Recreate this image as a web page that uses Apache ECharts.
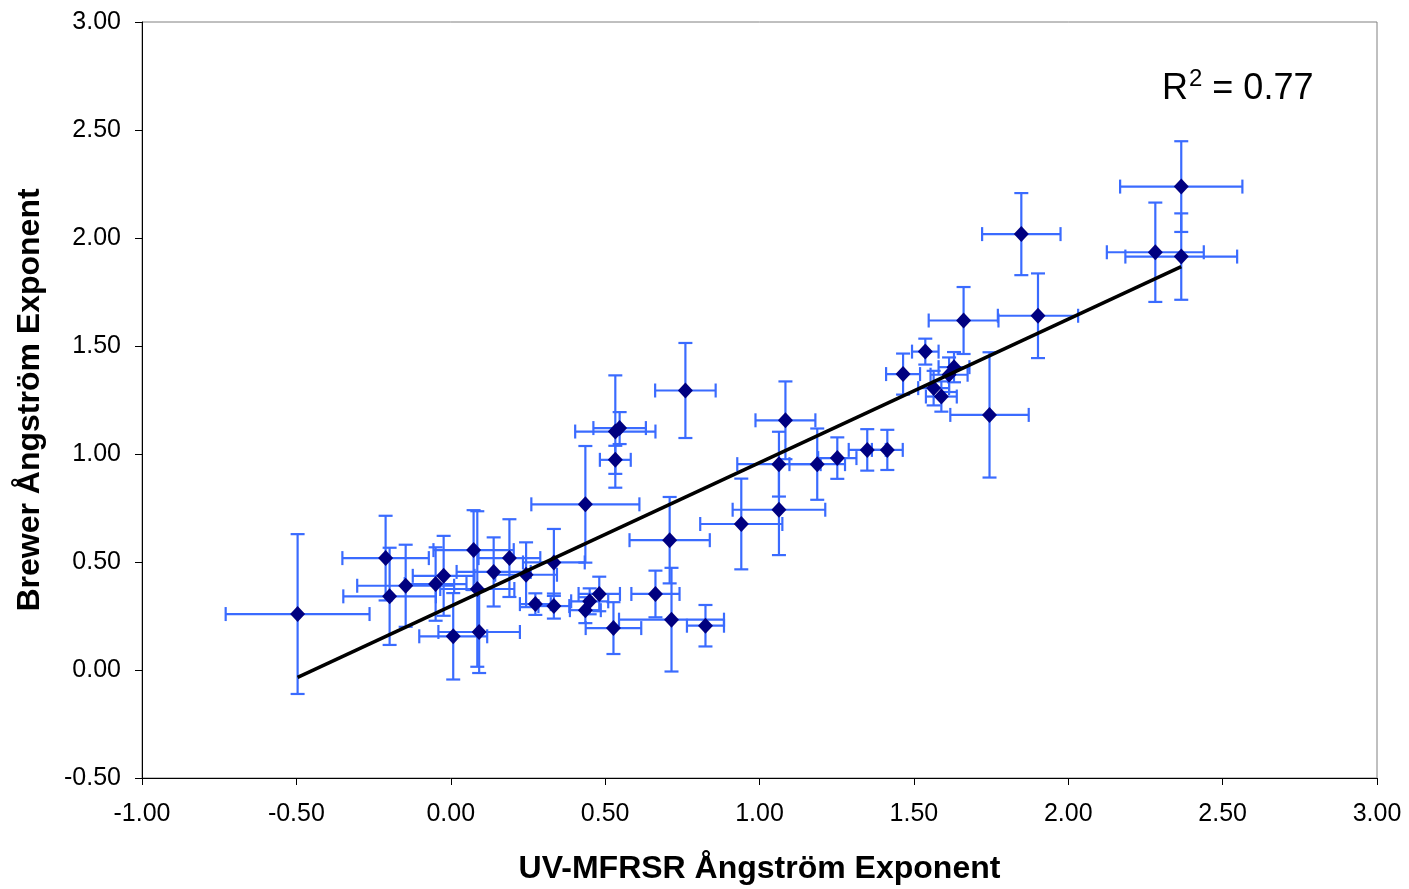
<!DOCTYPE html>
<html>
<head>
<meta charset="utf-8">
<script src="https://cdn.jsdelivr.net/npm/echarts@6/dist/echarts.min.js"></script>
<style>html,body{margin:0;padding:0;background:#fff;}#chart{width:1409px;height:889px;}</style>
</head>
<body>
<div id="chart"></div>
<script>
// UV-MFRSR Ångström exponent (x), Brewer Ångström exponent (y)
const xValues = [-0.496,-0.211,-0.198,-0.146,-0.049,-0.023,0.008,0.074,0.086,0.092,
  0.139,0.190,0.244,0.274,0.334,0.334,0.436,0.450,0.481,0.436,
  0.527,0.533,0.533,0.547,0.663,0.709,0.715,0.760,0.825,0.941,
  1.063,1.063,1.084,1.187,1.252,1.349,1.414,1.465,1.537,1.564,
  1.589,1.614,1.630,1.661,1.745,1.848,1.902,2.282,2.366,2.366];
const yValues = [0.259,0.518,0.341,0.390,0.398,0.436,0.156,0.555,0.375,0.176,
  0.454,0.518,0.441,0.305,0.296,0.498,0.277,0.318,0.352,0.767,
  0.194,0.973,1.104,1.120,0.352,0.601,0.233,1.294,0.205,0.676,
  0.953,0.742,1.156,0.953,0.981,1.019,1.019,1.370,1.474,1.305,
  1.266,1.367,1.402,1.618,1.181,2.018,1.640,1.934,2.238,1.914];
const xErrors = [0.233,0.140,0.150,0.157,0.100,0.100,0.110,0.130,0.120,0.132,
  0.120,0.100,0.100,0.050,0.050,0.100,0.050,0.060,0.067,0.175,
  0.090,0.050,0.130,0.085,0.078,0.130,0.170,0.098,0.060,0.133,
  0.135,0.150,0.097,0.090,0.062,0.060,0.050,0.055,0.043,0.050,
  0.050,0.060,0.050,0.113,0.127,0.127,0.130,0.157,0.198,0.181];
const yErrors = [0.370,0.196,0.225,0.190,0.170,0.185,0.200,0.185,0.360,0.190,
  0.160,0.180,0.150,0.050,0.058,0.155,0.060,0.060,0.080,0.270,
  0.120,0.065,0.260,0.074,0.108,0.200,0.240,0.220,0.096,0.210,
  0.150,0.210,0.180,0.165,0.096,0.096,0.093,0.095,0.060,0.080,
  0.070,0.080,0.070,0.155,0.290,0.190,0.196,0.230,0.210,0.200];
const xTickMin = -1, xTickMax = 3, xTickStep = 0.5;
const yTickMin = -0.5, yTickMax = 3, yTickStep = 0.5;
const rSquaredLabel = '0.77';

// least-squares trend line
const n = xValues.length;
const mx = xValues.reduce((a,b)=>a+b,0)/n;
const my = yValues.reduce((a,b)=>a+b,0)/n;
let sxy = 0, sxx = 0;
for (let i=0;i<n;i++){ sxy += (xValues[i]-mx)*(yValues[i]-my); sxx += (xValues[i]-mx)**2; }
const slope = sxy/sxx, intercept = my - slope*mx;
const xLo = Math.min(...xValues), xHi = Math.max(...xValues);
const trendData = [[xLo, intercept+slope*xLo],[xHi, intercept+slope*xHi]];

const points = xValues.map((x,i)=>[x, yValues[i]]);
const errData = xValues.map((x,i)=>[x, yValues[i], xErrors[i], yErrors[i]]);

const chart = echarts.init(document.getElementById('chart'));
const FONT = 'Liberation Sans, Arial, sans-serif';
const errColor = '#3a6bff';
const CAP = 7;

chart.setOption({
  animation:false,
  backgroundColor:'#fff',
  title:{
    left:1157, top:62,
    text:'{a|R}{s|2}{a| = ' + rSquaredLabel + '}',
    textStyle:{
      fontWeight:'normal',
      rich:{
        a:{fontFamily:FONT,fontSize:36,fontWeight:'normal',color:'#000',verticalAlign:'bottom',lineHeight:40},
        s:{fontFamily:FONT,fontSize:24,fontWeight:'normal',color:'#000',verticalAlign:'top',lineHeight:40,padding:[0,0,0,1]}
      }
    }
  },
  grid:{left:142,right:32,top:22,bottom:111,show:true,borderColor:'#808080',borderWidth:1,containLabel:false,outerBoundsMode:'none'},
  xAxis:{
    type:'value',min:xTickMin,max:xTickMax,interval:xTickStep,
    name:'UV-MFRSR Ångström Exponent',nameLocation:'middle',nameGap:75,
    nameTextStyle:{fontFamily:FONT,fontSize:32,fontWeight:'bold',color:'#000'},
    axisLine:{show:true,onZero:false,lineStyle:{color:'#000',width:1}},
    axisTick:{show:true,inside:false,length:7,lineStyle:{color:'#000'}},
    axisLabel:{fontFamily:FONT,fontSize:25,color:'#000',margin:24,formatter:v=>v.toFixed(2)},
    splitLine:{show:false}
  },
  yAxis:{
    type:'value',min:yTickMin,max:yTickMax,interval:yTickStep,
    name:'Brewer Ångström Exponent',nameLocation:'middle',nameGap:96,
    nameTextStyle:{fontFamily:FONT,fontSize:32,fontWeight:'bold',color:'#000'},
    axisLine:{show:true,onZero:false,lineStyle:{color:'#000',width:1}},
    axisTick:{show:true,inside:false,length:7,lineStyle:{color:'#000'}},
    axisLabel:{fontFamily:FONT,fontSize:25,color:'#000',margin:21,formatter:v=>v.toFixed(2)},
    splitLine:{show:false}
  },
  series:[
    {
      type:'custom',z:1,
      data:errData,
      renderItem:function(params,api){
        const x=api.value(0), y=api.value(1), ex=api.value(2), ey=api.value(3);
        const l=api.coord([x-ex,y]), r=api.coord([x+ex,y]);
        const t=api.coord([x,y+ey]), b=api.coord([x,y-ey]);
        const st={stroke:errColor,lineWidth:2.2};
        return {type:'group',children:[
          {type:'line',shape:{x1:l[0],y1:l[1],x2:r[0],y2:r[1]},style:st},
          {type:'line',shape:{x1:l[0],y1:l[1]-CAP,x2:l[0],y2:l[1]+CAP},style:st},
          {type:'line',shape:{x1:r[0],y1:r[1]-CAP,x2:r[0],y2:r[1]+CAP},style:st},
          {type:'line',shape:{x1:t[0],y1:t[1],x2:b[0],y2:b[1]},style:st},
          {type:'line',shape:{x1:t[0]-CAP,y1:t[1],x2:t[0]+CAP,y2:t[1]},style:st},
          {type:'line',shape:{x1:b[0]-CAP,y1:b[1],x2:b[0]+CAP,y2:b[1]},style:st}
        ]};
      }
    },
    {
      type:'scatter',z:2,data:points,symbol:'diamond',symbolSize:[15,16],
      itemStyle:{color:'#000080',opacity:1}
    },
    {
      type:'line',z:3,data:trendData,symbol:'none',
      lineStyle:{color:'#000',width:3.5}
    }
  ]
});
</script>
</body>
</html>
